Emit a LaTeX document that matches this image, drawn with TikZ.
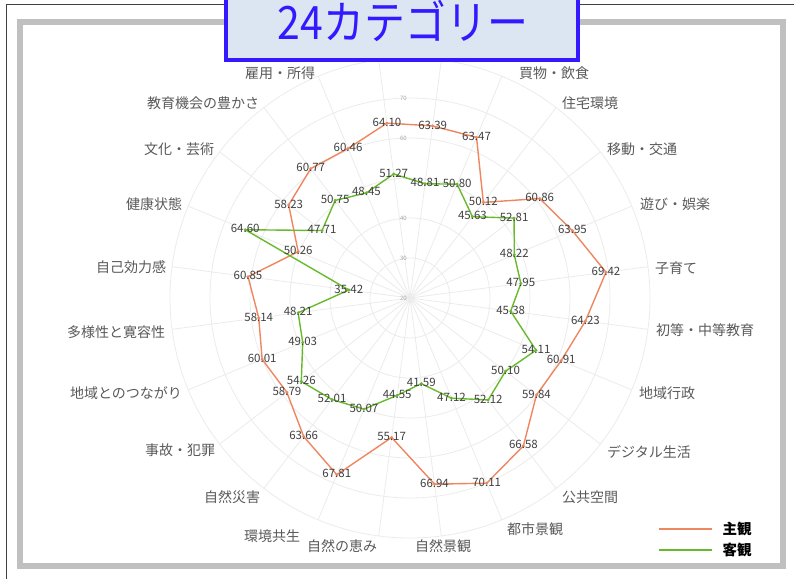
\documentclass[tikz,border=0pt]{standalone}
\usepackage{fontspec}
\setmainfont{Noto Sans CJK JP}
\usepackage{graphicx}
\usepackage{tikz}
\definecolor{subjcol}{RGB}{238,135,95}
\definecolor{objcol}{RGB}{104,186,44}
\definecolor{gridcol}{RGB}{235,235,235}
\definecolor{catcol}{RGB}{89,89,89}
\definecolor{numcol}{RGB}{64,64,64}
\definecolor{framecol}{RGB}{192,192,192}
\definecolor{titlefill}{RGB}{220,230,242}
\definecolor{titleblue}{RGB}{52,24,255}
\tikzset{ring/.style={draw=gridcol, line width=0.8pt},
spoke/.style={draw=gridcol, line width=0.8pt},
subj/.style={draw=subjcol, line width=1.4pt, line join=round},
obj/.style={draw=objcol, line width=1.4pt, line join=round},
catlabel/.style={text=catcol, font=\fontsize{14}{16}\selectfont, inner sep=0pt},
datlabel/.style={text=numcol, font=\fontsize{11.5}{13}\selectfont, inner sep=0pt, yshift=1pt},
vallabel/.style={text=black!35, font=\fontsize{6}{7}\selectfont, inner sep=0pt, anchor=east},
legtext/.style={font=\fontsize{14.5}{16}\selectfont\bfseries, inner sep=0pt},
titlebox/.style={fill=titlefill, draw=titleblue, line width=4pt},
titletext/.style={text=titleblue, inner sep=0pt}}
% values, clockwise from the top
\newcommand\subjvals{64.10,63.39,63.47,50.12,60.86,63.95,69.42,64.23,60.91,59.84,66.58,70.11,66.94,55.17,67.81,63.66,58.79,60.01,58.14,60.85,50.26,58.23,60.77,60.46}
\newcommand\objvals{51.27,48.81,50.80,45.63,52.81,48.22,47.95,45.38,54.11,50.10,52.12,47.12,41.59,44.55,50.07,52.01,54.26,49.03,48.21,35.42,64.60,47.71,50.75,48.45}

\begin{document}
\begin{tikzpicture}[x=1pt,y=1pt]
\useasboundingbox (0,0) rectangle (794,579);
% frames
\draw[black!75, line width=1pt] (6,0) -- (6,574) -- (794,574);
\draw[framecol, line width=6pt] (20,557) rectangle (783,13);

\begin{scope}[shift={(410,281)}]
% grid
\foreach \r in {40,80,...,240}
  \draw[ring] (0,0) circle (\r pt);
\foreach \a in {7.5,22.5,...,352.5}
  \draw[spoke] (0,0) -- (\a:240);
\foreach \t in {20,30,40,60,70}
  \node[vallabel] (v\t) at (-3,{4*(\t-20)}) {\t};

% series
\foreach \v [count=\i from 0] in \subjvals
  \coordinate (s\i) at ({97.5-15*\i}:{4*(\v-20)});
\foreach \v [count=\i from 0] in \objvals
  \coordinate (o\i) at ({97.5-15*\i}:{4*(\v-20)});
\draw[subj] (s0) \foreach \i in {1,...,23}{ -- (s\i)} -- cycle;
\draw[obj] (o0) \foreach \i in {1,...,23}{ -- (o\i)} -- cycle;

%labels
\foreach \v [count=\i from 0] in \subjvals {
  \fill[subjcol] (s\i) circle (1.6pt);
  \node[datlabel] (sl\i) at (s\i) {\v};
}
\foreach \v [count=\i from 0] in \objvals {
  \fill[objcol] (o\i) circle (1.6pt);
  \node[datlabel] (ol\i) at (o\i) {\v};
}
\end{scope}

% categories
\foreach \x/\y/\t [count=\k] in {280/506/雇用・所得, 203/476/教育機会の豊かさ, 179/430/文化・芸術,
    154/375/健康状態, 131/312/自己効力感, 116/247/多様性と寛容性, 126/186/地域とのつながり,
    180/129/事故・犯罪, 232/82/自然災害, 272/43/環境共生, 342/33/自然の恵み, 443/33/自然景観,
    535/50/都市景観, 590/82/公共空間, 649/127/デジタル生活, 667/186/地域行政,
    705/249/初等・中等教育, 676/311/子育て, 675/375/遊び・娯楽, 642/430/移動・交通,
    590/476/住宅環境, 554/506/買物・飲食}
  \node[catlabel] (cat\k) at (\x,\y) {\t};

% legend
\node[legtext] (lsubj) at (737,50) {主観};
\node[legtext] (lobj) at (737,29) {客観};
\draw[subjcol, line width=2.5pt] ([xshift=-10pt]lsubj.west) -- ++(-53,0);
\draw[objcol, line width=2.5pt] ([xshift=-10pt]lobj.west) -- ++(-53,0);

% title
\draw[titlebox] (226,589) rectangle (578,519);
\node[titletext] (title) at (403,558) {\scalebox{0.89}[1]{\fontsize{46}{50}\selectfont 24カテゴリー}};
\end{tikzpicture}
\end{document}
